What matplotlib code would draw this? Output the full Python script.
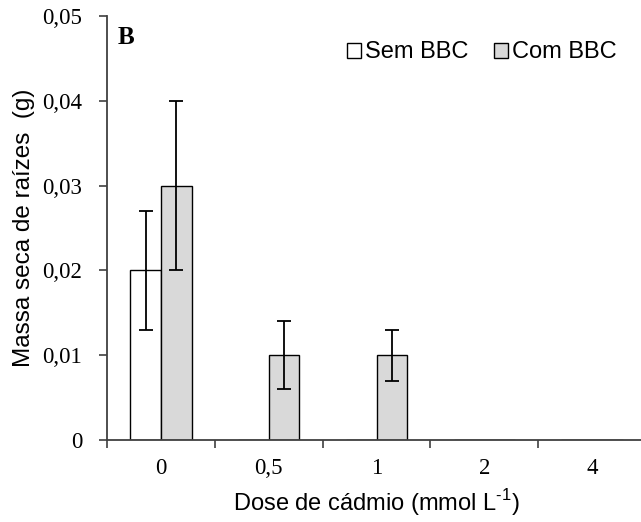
import matplotlib.pyplot as plt
import numpy as np

# Data
doses = ['0', '0,5', '1', '2', '4']
sem_bbc = [0.020, 0.0, 0.0, 0.0, 0.0]
sem_bbc_err = [0.007, 0.0, 0.0, 0.0, 0.0]
com_bbc = [0.030, 0.010, 0.010, 0.0, 0.0]
com_bbc_err = [0.010, 0.004, 0.003, 0.0, 0.0]
yticks = [0, 0.01, 0.02, 0.03, 0.04, 0.05]
ytick_labels = ['0', '0,01', '0,02', '0,03', '0,04', '0,05']

plt.rcParams['mathtext.fontset'] = 'custom'
plt.rcParams['mathtext.rm'] = 'Liberation Sans'

fig = plt.figure(figsize=(6.41, 5.22), dpi=100)
ax = fig.add_axes([107 / 641, 82 / 522, 539 / 641, 424 / 522])

x = np.arange(len(doses))
width = 0.285
axis_color = '#404040'

ax.bar(x - width / 2, sem_bbc, width, color='white', edgecolor='black',
       linewidth=1.0, label='Sem BBC', zorder=2)
ax.bar(x + width / 2, com_bbc, width, color='#d9d9d9', edgecolor='black',
       linewidth=1.0, label='Com BBC', zorder=2)

# error bars only where there is a bar
for xs, vals, errs in [(x - width / 2, sem_bbc, sem_bbc_err),
                       (x + width / 2, com_bbc, com_bbc_err)]:
    for xi, v, e in zip(xs, vals, errs):
        if v > 0:
            ax.errorbar(xi, v, yerr=e, fmt='none', ecolor='black',
                        elinewidth=1.3, capsize=5, capthick=1.3, zorder=3)

ax.set_xlim(-0.5, len(doses) - 0.5)
ax.set_ylim(0, 0.05)

ax.set_yticks(yticks)
ax.set_yticklabels(ytick_labels, family='Liberation Serif', fontsize=16.5)
ax.tick_params(axis='y', direction='out', length=6, width=1.2,
               color=axis_color, pad=12)

# category labels at centres, ticks at the boundaries
ax.set_xticks(x)
ax.set_xticklabels(doses, family='Liberation Serif', fontsize=16.5)
ax.tick_params(axis='x', which='major', length=0, pad=13)
ax.set_xticks(np.arange(len(doses) + 1) - 0.5, minor=True)
ax.tick_params(axis='x', which='minor', direction='out', length=6,
               width=1.2, color=axis_color)

for side in ['top', 'right']:
    ax.spines[side].set_visible(False)
for side in ['left', 'bottom']:
    ax.spines[side].set_color(axis_color)
    ax.spines[side].set_linewidth(1.3)

ax.set_ylabel('Massa seca de raízes  (g)', family='Liberation Sans',
              fontsize=17.5, labelpad=5)
ax.set_xlabel('Dose de cádmio (mmol L$^{\\text{-1}}$)',
              family='Liberation Sans', fontsize=17, labelpad=6)

ax.text(0.02, 0.977, 'B', transform=ax.transAxes, family='Liberation Serif',
        fontweight='bold', fontsize=18, va='top', ha='left')

ax.legend(loc='upper right', bbox_to_anchor=(0.985, 0.99), ncol=2,
          frameon=False, handlelength=0.6, handleheight=0.6,
          handletextpad=0.15, columnspacing=1.1,
          prop={'family': 'Liberation Sans', 'size': 17})

plt.savefig('out.png', dpi=100)
